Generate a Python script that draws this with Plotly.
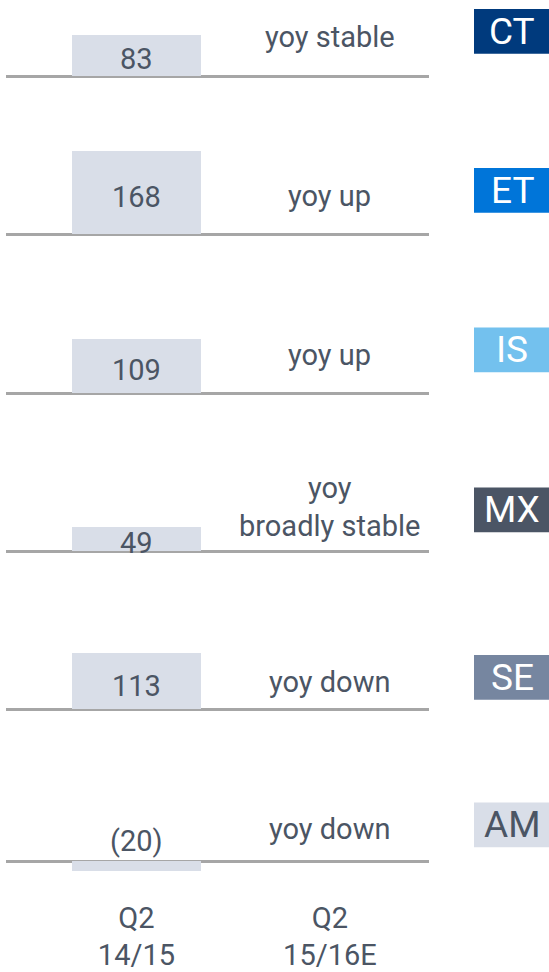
import plotly.graph_objects as go

# ---- data ----
segments = ["CT", "ET", "IS", "MX", "SE", "AM"]
values_q2_1415 = [83, 168, 109, 49, 113, -20]
outlook_q2_1516e = ["yoy stable", "yoy up", "yoy up", "yoy<br>broadly stable", "yoy down", "yoy down"]
periods = ["Q2<br>14/15", "Q2<br>15/16E"]

# ---- styles / layout ----
badge_colors = ["#003a7d", "#0075d9", "#73c1ee", "#4b5565", "#7686a0", "#d9dee8"]
badge_text_colors = ["white", "white", "white", "white", "white", "#4b5564"]
bar_color = "#d9dee8"
text_color = "#4b5564"
line_color = "#a6a6a6"
FONT = "Roboto, 'DejaVu Sans', sans-serif"

W, H = 549, 972
ML, MR = 6, 120
PW = W - ML - MR
S = 0.5  # px per unit
baseline_px = [76.5, 236, 396, 555, 714, 867]
badge_center_px = [31.5, 191.5, 352, 513, 681.5, 830]
comment_center_px = [37, 197, 357, 510, 686, 834]

def xp(px):
    return (px - ML) / PW

def yp(py):
    return 1 - py / H

fig = go.Figure()
annotations = []
shapes = []
n = len(segments)
for i in range(n):
    k = "" if i == 0 else str(i + 1)
    P = baseline_px[i]
    top_px = max(0, P - 90)
    bot_px = P + 20
    ymax = (P - top_px) / S
    ymin = -(bot_px - P) / S
    fig.add_trace(go.Bar(
        x=[0], y=[values_q2_1415[i]], width=0.667,
        marker=dict(color=bar_color, line=dict(width=0)),
        xaxis="x" + k, yaxis="y" + k, showlegend=False, hoverinfo="skip",
    ))
    fig.layout["xaxis" + k] = dict(
        domain=[0, 1], range=[-0.674, 1.512], anchor="y" + k,
        showgrid=False, zeroline=False, showline=False,
        showticklabels=(i == n - 1), ticks="",
        tickvals=[0, 1], ticktext=periods, ticklabelstandoff=16,
        tickfont=dict(family=FONT, size=29, color=text_color),
        fixedrange=True,
    )
    fig.layout["yaxis" + k] = dict(
        domain=[yp(bot_px), yp(top_px)], range=[ymin, ymax], anchor="x" + k,
        showgrid=False, showticklabels=False, ticks="",
        zeroline=True, zerolinecolor=line_color, zerolinewidth=2.5,
        layer="above traces", fixedrange=True,
    )
    v = values_q2_1415[i]
    label = f"({abs(v)})" if v < 0 else f"{v}"
    if v >= 0:
        annotations.append(dict(
            xref="x" + k, yref="y" + k, x=0, y=v / 2, text=label,
            showarrow=False, yanchor="middle", yshift=-4,
            font=dict(family=FONT, size=29, color=text_color)))
    else:
        annotations.append(dict(
            xref="x" + k, yref="y" + k, x=0, y=0, text=label,
            showarrow=False, yanchor="bottom", yshift=2,
            font=dict(family=FONT, size=29, color=text_color)))
    annotations.append(dict(
        xref="x" + k, yref="paper", x=1, y=yp(comment_center_px[i]),
        text=outlook_q2_1516e[i], showarrow=False, yanchor="middle",
        font=dict(family=FONT, size=29, color=text_color)))
    bc = badge_center_px[i]
    shapes.append(dict(
        type="rect", xref="paper", yref="paper",
        x0=xp(474), x1=xp(549), y0=yp(bc + 22.5), y1=yp(bc - 22.5),
        fillcolor=badge_colors[i], line=dict(width=0)))
    annotations.append(dict(
        xref="paper", yref="paper", x=xp(512), y=yp(bc), text=segments[i],
        showarrow=False, xanchor="center", yanchor="middle",
        font=dict(family=FONT, size=37, color=badge_text_colors[i])))

fig.update_layout(
    width=W, height=H,
    margin=dict(l=ML, r=MR, t=0, b=0),
    paper_bgcolor="white", plot_bgcolor="rgba(0,0,0,0)",
    annotations=annotations, shapes=shapes,
    font=dict(family=FONT, color=text_color),
    showlegend=False, bargap=0,
)
fig.write_html(
    "out.html",
    config={"displayModeBar": False},
    post_script="document.body.style.margin='0';document.body.style.overflow='hidden';",
)
